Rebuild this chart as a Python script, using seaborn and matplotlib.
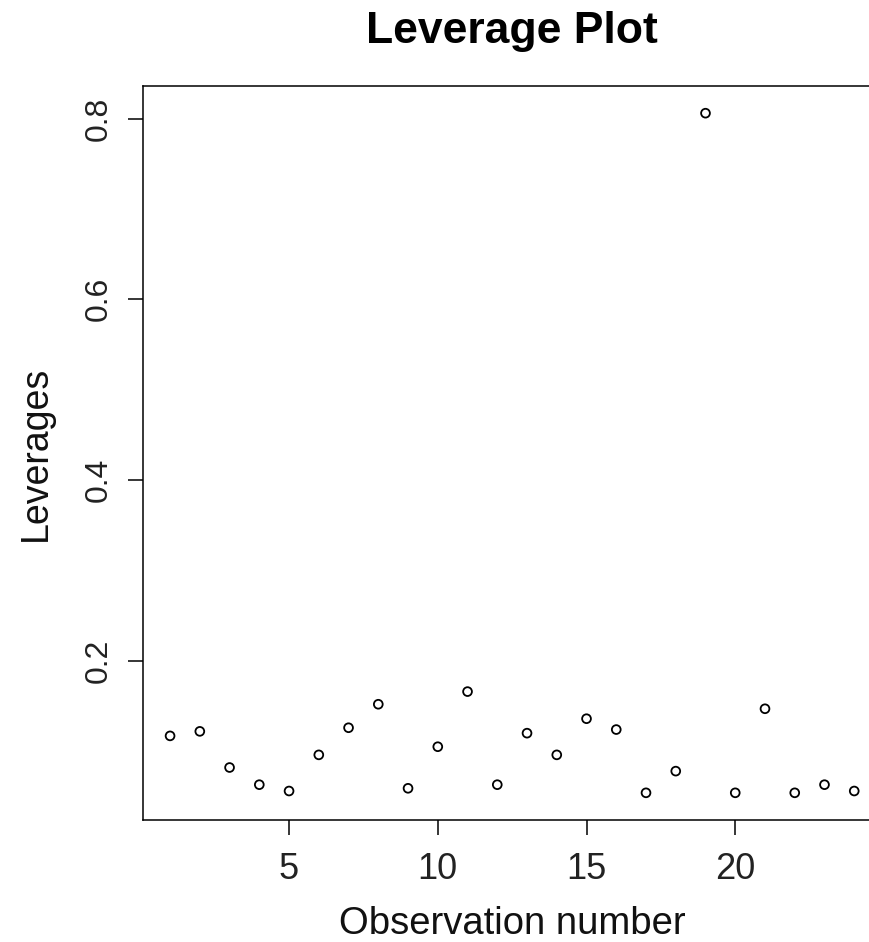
import numpy as np
import pandas as pd
import seaborn as sns
import matplotlib
matplotlib.use("Agg")
import matplotlib.pyplot as plt

# leverage values, one per observation
observation = list(range(1, 25))
leverages = [0.117, 0.122, 0.082, 0.063, 0.056, 0.096, 0.126, 0.152,
             0.059, 0.105, 0.166, 0.063, 0.120, 0.096, 0.136, 0.124,
             0.054, 0.078, 0.806, 0.054, 0.147, 0.054, 0.063, 0.056]
x_ticks = [5, 10, 15, 20]
y_ticks = [0.2, 0.4, 0.6, 0.8]

df = pd.DataFrame({"obs": observation, "lev": leverages})

sns.set_style("ticks")
plt.rcParams["font.family"] = ["Liberation Sans", "DejaVu Sans"]


def r_range(values):
    # base R pads the data range by 4% on each side
    lo, hi = min(values), max(values)
    pad = 0.04 * (hi - lo)
    return lo - pad, hi + pad


fig = plt.figure(figsize=(8.69, 9.42), dpi=100)
ax = fig.add_axes([142.7 / 869, 1 - 820 / 942, 738.9 / 869, 734 / 942])

sns.scatterplot(data=df, x="obs", y="lev", ax=ax, s=40, marker="o",
                facecolor="none", edgecolor="black", linewidth=1.3)

ax.set_xlim(*r_range(observation))
ax.set_ylim(*r_range(leverages))
ax.set_xticks(x_ticks)
ax.set_yticks(y_ticks)
ax.set_xticklabels([str(t) for t in x_ticks])
ax.set_yticklabels([f"{t:.1f}" for t in y_ticks])

for side in ["left", "right", "top", "bottom"]:
    ax.spines[side].set_visible(True)
    ax.spines[side].set_linewidth(1.1)
    ax.spines[side].set_color("black")

ax.tick_params(axis="both", direction="out", length=11, width=1.1,
               color="black", labelcolor="#222222")
ax.tick_params(axis="x", pad=12, labelsize=26)
ax.tick_params(axis="y", pad=9.5, labelsize=23, labelrotation=90)
for lab in ax.get_yticklabels():
    lab.set_verticalalignment("center")

ax.set_xlabel("Observation number", fontsize=27.5, color="#111111")
ax.set_ylabel("Leverages", fontsize=27, color="#111111")
ax.xaxis.set_label_coords(0.5, -0.117)
ax.yaxis.set_label_coords(-0.12, 0.5)

fig.text(0.589, 1 - 43 / 942, "Leverage Plot", ha="center", va="baseline",
         fontsize=32, fontweight="bold", color="black")

fig.savefig("out.png", dpi=100, facecolor="white")
